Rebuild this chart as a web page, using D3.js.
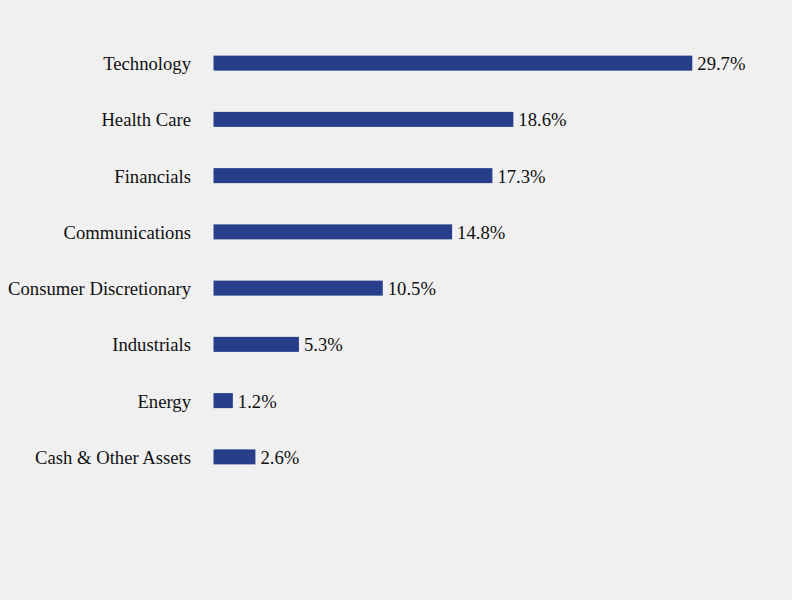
<!DOCTYPE html>
<html>
<head>
<meta charset="utf-8">
<script src="https://cdn.jsdelivr.net/npm/d3@7"></script>
<style>
html,body{margin:0;padding:0;background:#f0f0f0;}
svg{display:block;}
</style>
</head>
<body>
<div id="chart"></div>
<script>
const categories = ["Technology","Health Care","Financials","Communications","Consumer Discretionary","Industrials","Energy","Cash & Other Assets"];
const values = [29.7,18.6,17.3,14.8,10.5,5.3,1.2,2.6];
const valueLabels = ["29.7%","18.6%","17.3%","14.8%","10.5%","5.3%","1.2%","2.6%"];

const W = 792, H = 600;
const svg = d3.select("#chart").append("svg").attr("width", W).attr("height", H);
svg.append("rect").attr("width", W).attr("height", H).attr("fill", "#f0f0f0");

const x0 = 213.5;
const x = d3.scaleLinear().domain([0, 29.7]).range([x0, 692.3]);
const y = d3.scaleBand().domain(categories).range([35, 485]).paddingInner(0.7333).paddingOuter(0.36665);

const font = "'Liberation Serif','Times New Roman',Times,serif";
const fs = 18.67;

svg.selectAll("rect.bar").data(categories).enter().append("rect")
  .attr("class","bar")
  .attr("x", x(0))
  .attr("y", d => y(d))
  .attr("width", (d,i) => x(values[i]) - x(0))
  .attr("height", y.bandwidth())
  .attr("fill", "#273f8a");

svg.selectAll("text.cat").data(categories).enter().append("text")
  .attr("class","cat")
  .attr("x", 191)
  .attr("y", d => y(d) + y.bandwidth()/2)
  .attr("dy", "0.38em")
  .attr("text-anchor", "end")
  .attr("font-family", font)
  .attr("font-size", fs)
  .attr("fill", "#111")
  .text(d => d);

svg.selectAll("text.val").data(categories).enter().append("text")
  .attr("class","val")
  .attr("x", (d,i) => x(values[i]) + 5)
  .attr("y", d => y(d) + y.bandwidth()/2)
  .attr("dy", "0.38em")
  .attr("font-family", font)
  .attr("font-size", fs)
  .attr("fill", "#111")
  .text((d,i) => valueLabels[i]);
</script>
</body>
</html>
